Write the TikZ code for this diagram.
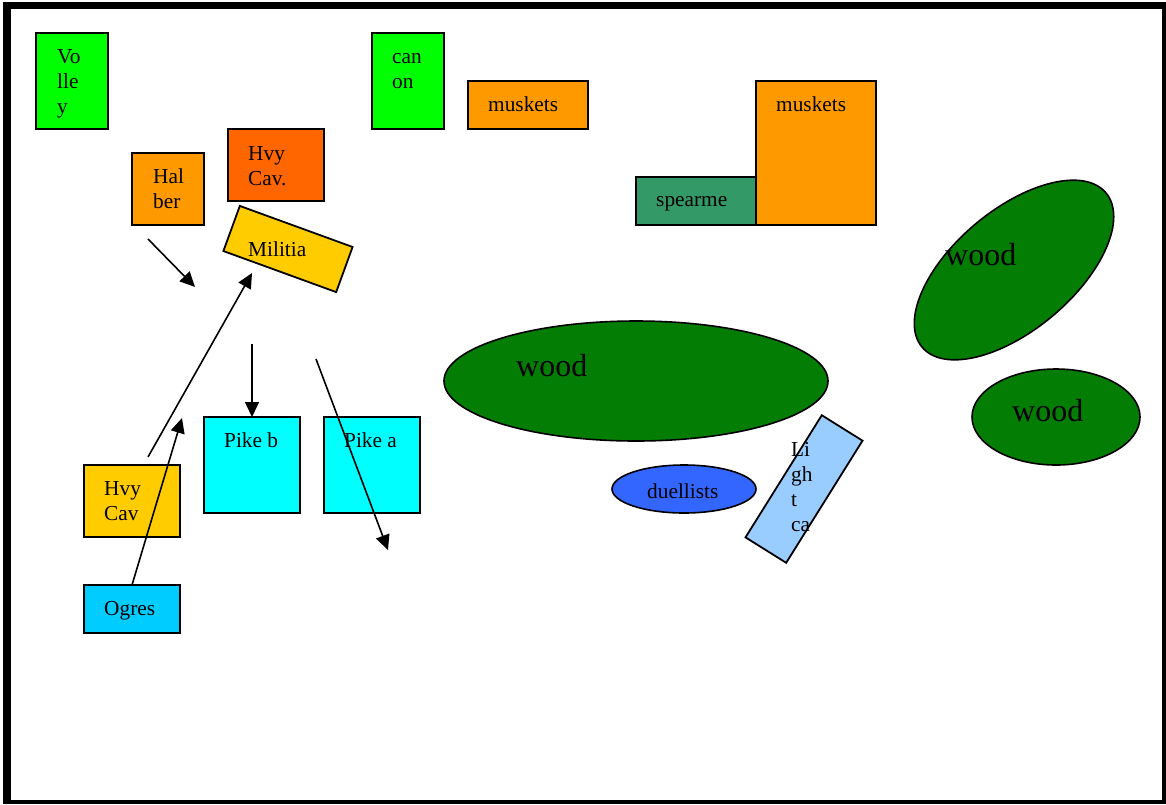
\documentclass[tikz,border=0pt]{standalone}
\usepackage{fontspec}
\setmainfont{Liberation Serif}
\usetikzlibrary{shapes.geometric,arrows.meta}
\definecolor{cgreen}{HTML}{00FF00}
\definecolor{corange}{HTML}{FF9900}
\definecolor{cred}{HTML}{FF6600}
\definecolor{cyellow}{HTML}{FFCC00}
\definecolor{ccyan}{HTML}{00FFFF}
\definecolor{cogre}{HTML}{00CCFF}
\definecolor{cspear}{HTML}{339966}
\definecolor{cwood}{HTML}{037D03}
\definecolor{cduel}{HTML}{3366FF}
\definecolor{clight}{HTML}{99CCFF}
\newcommand\mylines[1]{\renewcommand\arraystretch{1.0}\begin{tabular}[t]{@{}l@{}}#1\end{tabular}}
\tikzset{
  box/.style={draw=black, line width=1.8pt, rectangle, inner sep=0pt},
  oval/.style={draw=black, line width=1.6pt, ellipse, inner sep=0pt},
  txt/.style={anchor=base west, inner sep=0pt, font=\fontsize{21.33}{25}\selectfont},
  woodtxt/.style={anchor=base west, inner sep=0pt, font=\fontsize{32}{37}\selectfont},
  arr/.style={line width=1.6pt, -{Triangle[length=15pt,width=14pt]}}
}
\begin{document}
\begin{tikzpicture}[x=1pt,y=-1pt]
\useasboundingbox (0,0) rectangle (1166,804);
% frame
\fill[black] (3,2) rectangle (1166,804);
\fill[white] (11,9) rectangle (1162,800);
% boxes
\node[box, fill=cgreen, minimum width=72pt, minimum height=96pt] (volley) at (72,81) {};
\node[box, fill=cgreen, minimum width=72pt, minimum height=96pt] (canon) at (408,81) {};
\node[box, fill=corange, minimum width=120pt, minimum height=48pt] (musk1) at (528,105) {};
\node[box, fill=corange, minimum width=72pt, minimum height=72pt] (halber) at (168,189) {};
\node[box, fill=cred, minimum width=96pt, minimum height=72pt] (hvycav1) at (276,165) {};
\node[box, fill=cyellow, minimum width=120pt, minimum height=48pt, rotate=-20] (militia) at (288,249) {};
\node[box, fill=cspear, minimum width=120pt, minimum height=48pt] (spear) at (696,201) {};
\node[box, fill=corange, minimum width=120pt, minimum height=144pt] (musk2) at (816,153) {};
\node[box, fill=ccyan, minimum width=96pt, minimum height=96pt] (pikeb) at (252,465) {};
\node[box, fill=ccyan, minimum width=96pt, minimum height=96pt] (pikea) at (372,465) {};
\node[box, fill=cyellow, minimum width=96pt, minimum height=72pt] (hvycav2) at (132,501) {};
\node[box, fill=cogre, minimum width=96pt, minimum height=48pt] (ogres) at (132,609) {};
% woods and ovals
\node[oval, fill=cwood, minimum width=384pt, minimum height=120pt] (wood1) at (636,381) {};
\node[oval, fill=cwood, minimum width=240pt, minimum height=120pt, rotate=40] (wood2) at (1014,270) {};
\node[oval, fill=cwood, minimum width=168pt, minimum height=96pt] (wood3) at (1056,417) {};
\node[oval, fill=cduel, minimum width=144pt, minimum height=48pt] (duel) at (684,489) {};
\node[box, fill=clight, minimum width=48pt, minimum height=144pt, rotate=-32] (light) at (804,489) {};
% texts
\node[txt] (volleyt) at (57,63) {\mylines{Vo\\lle\\y}};
\node[txt] (canont) at (392,63) {\mylines{can\\on}};
\node[txt] (musk1t) at (488,111) {muskets};
\node[txt] (halbert) at (153,183) {\mylines{Hal\\ber}};
\node[txt] (hvycav1t) at (248,160) {\mylines{Hvy\\Cav.}};
\node[txt] (militiat) at (248,256) {Militia};
\node[txt] (speart) at (656,206) {spearme};
\node[txt] (musk2t) at (776,111) {muskets};
\node[txt] (pikebt) at (224,447) {Pike b};
\node[txt] (pikeat) at (344,447) {Pike a};
\node[txt] (hvycav2t) at (104,495) {\mylines{Hvy\\Cav}};
\node[txt] (ogrest) at (104,615) {Ogres};
\node[txt] (duelt) at (647,498) {duellists};
\node[txt] (lightt) at (791,456) {\mylines{Li\\gh\\t\\ca}};
\node[woodtxt] (wood1t) at (516,376) {wood};
\node[woodtxt] (wood2t) at (945,265) {wood};
\node[woodtxt] (wood3t) at (1012,421) {wood};
% arrows
\coordinate (a1s) at (148,239); \coordinate (a1e) at (195,287);
\coordinate (a2s) at (148,457); \coordinate (a2e) at (252,273);
\coordinate (a3s) at (132,585); \coordinate (a3e) at (182,418);
\coordinate (a4s) at (252,344); \coordinate (a4e) at (252,417);
\coordinate (a5s) at (316,359); \coordinate (a5e) at (388,550);
\draw[arr] (a1s) -- (a1e);
\draw[arr] (a2s) -- (a2e);
\draw[arr] (a3s) -- (a3e);
\draw[arr] (a4s) -- (a4e);
\draw[arr] (a5s) -- (a5e);
\end{tikzpicture}
\end{document}
